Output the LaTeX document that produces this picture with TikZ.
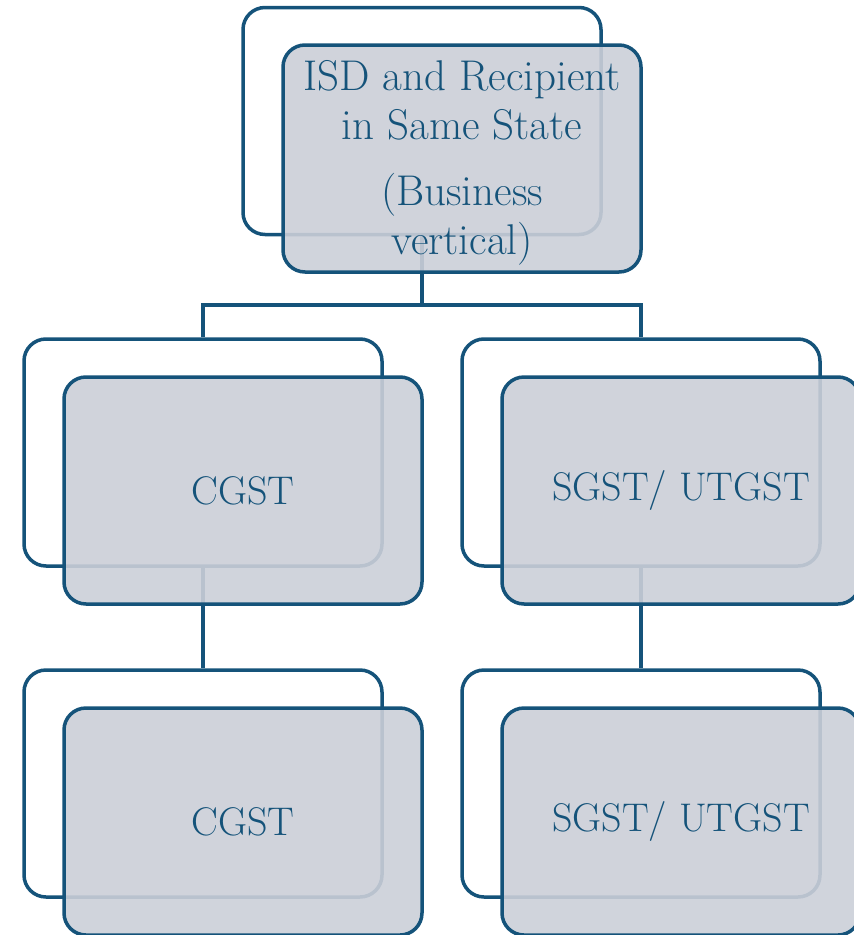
\documentclass[tikz,border=0pt]{standalone}
\definecolor{lineblue}{RGB}{21,83,122}
\definecolor{boxgray}{RGB}{203,207,216}
\tikzset{
  backbox/.style={draw=lineblue, line width=3.5pt, rounded corners=22pt, fill=white,
    minimum width=358pt, minimum height=227pt, inner sep=0pt},
  frontbox/.style={draw=lineblue, line width=3.5pt, rounded corners=22pt, fill=boxgray,
    fill opacity=0.9, text opacity=1, minimum width=358pt, minimum height=227pt,
    inner sep=0pt, text=lineblue, font=\fontsize{40}{49}\selectfont, align=center},
  conn/.style={draw=lineblue, line width=3.5pt}
}
\begin{document}
\begin{tikzpicture}[x=1pt,y=-1pt]
\useasboundingbox (0,0) rectangle (854,935);
\clip (0,0) rectangle (854,935);
% back boxes
\node[backbox] (tb) at (422,121) {};
\node[backbox] (mlb) at (203,452.5) {};
\node[backbox] (mrb) at (641,452.5) {};
\node[backbox] (blb) at (203,783.5) {};
\node[backbox] (brb) at (641,783.5) {};
% connectors
\coordinate (j1) at (422,305);
\draw[conn] (tb.south) -- (j1);
\draw[conn] (mlb.north) |- (j1) -| (mrb.north);
\draw[conn] (mlb.south) -- (blb.north);
\draw[conn] (mrb.south) -- (brb.north);
% front boxes
\node[frontbox] (tf) at (462,158.5) {};
\node[text=lineblue, font=\fontsize{43}{49}\selectfont, align=center, inner sep=0pt] (tt) at (462,163) {ISD and Recipient\\in Same State\\[17pt](Business\\vertical)};
\node[frontbox] (mlf) at (243,490.5) {CGST};
\node[frontbox] (mrf) at (681,490.5) {SGST/ UTGST};
\node[frontbox] (blf) at (243,821.5) {CGST};
\node[frontbox] (brf) at (681,821.5) {SGST/ UTGST};
\end{tikzpicture}
\end{document}
